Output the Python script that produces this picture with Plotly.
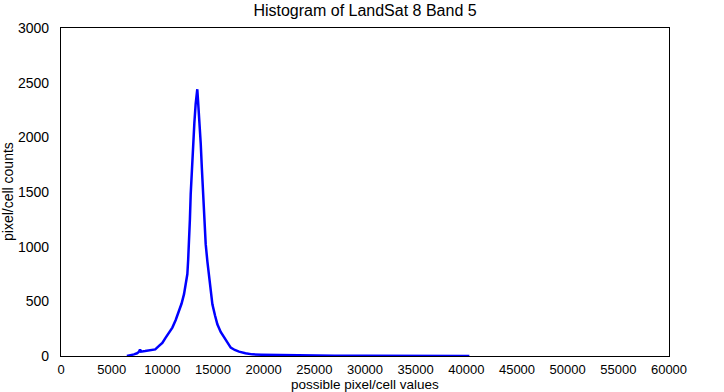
import plotly.graph_objects as go

# pixel value (x) and count (y)
pixel_values = [6500, 6800, 7200, 7500, 7700, 7800, 7900, 8300, 8700, 9000, 9300, 9670, 10000,
                10330, 10660, 10990, 11320, 11650, 11900, 12140, 12300, 12470, 12550, 12630,
                12720, 12800, 12920, 13030, 13160, 13290, 13380, 13450, 13520, 13620, 13700,
                13790, 13900, 14020, 14150, 14280, 14450, 14610, 14780, 14940, 15200, 15430,
                15760, 16090, 16420, 16750, 17150, 17570, 18200, 18880, 19800, 20830, 22000,
                23490, 25000, 27000, 30000, 33000, 36000, 38000, 40000, 40300]
pixel_counts = [0, 5, 15, 25, 40, 60, 40, 45, 50, 52, 60, 92, 120,
                168, 210, 260, 330, 413, 480, 566, 650, 750, 880, 1023,
                1250, 1482, 1720, 1941, 2130, 2307, 2380, 2440, 2340, 2216, 2080,
                1941, 1720, 1482, 1250, 1023, 860, 718, 580, 473, 370, 290,
                220, 168, 115, 76, 55, 40, 25, 15, 12, 10, 7,
                5, 4, 3, 3, 2, 2, 1, 1, 0]

x_ticks = list(range(0, 60001, 5000))
y_ticks = list(range(0, 3001, 500))

fig = go.Figure()
fig.add_trace(go.Scatter(
    x=pixel_values, y=pixel_counts, mode="lines",
    line=dict(color="#0000ff", width=2.5),
    showlegend=False, cliponaxis=True,
))

font_family = "Liberation Sans, Arial, Helvetica, sans-serif"
fig.update_layout(
    width=724, height=392,
    margin=dict(l=61, r=55, t=28, b=36, autoexpand=False),
    paper_bgcolor="white", plot_bgcolor="white",
    font=dict(family=font_family, size=14, color="black"),
    title=dict(text="Histogram of LandSat 8 Band 5", x=0.5, xanchor="center",
               xref="paper", y=1, yanchor="top", pad=dict(t=5),
               font=dict(size=16, family=font_family, color="black")),
    xaxis=dict(
        range=[0, 60000], tickvals=x_ticks, ticktext=[str(v) for v in x_ticks],
        showgrid=False, zeroline=False, showline=True, mirror=True,
        linecolor="black", linewidth=1.2, ticks="", automargin=False,
        ticklabelstandoff=1,
        tickfont=dict(size=13),
    ),
    yaxis=dict(
        range=[0, 3000], tickvals=y_ticks, ticktext=[str(v) for v in y_ticks],
        showgrid=False, zeroline=False, showline=True, mirror=True,
        linecolor="black", linewidth=1.2, ticks="", automargin=False,
        ticklabelstandoff=8,
        tickfont=dict(size=14),
    ),
    annotations=[
        dict(text="possible pixel/cell values", xref="paper", yref="paper",
             x=0.5, y=0, yshift=-28.5, xanchor="center", yanchor="middle",
             showarrow=False, font=dict(size=13.5)),
        dict(text="pixel/cell counts", xref="paper", yref="paper",
             x=0, y=0.5, xshift=-53, xanchor="center", yanchor="middle",
             textangle=-90, showarrow=False, font=dict(size=14)),
    ],
)

fig.write_html("out.html", config={"displayModeBar": False})

# remove the browser's default body margin so the figure sits at the page origin
with open("out.html", "r", encoding="utf-8") as f:
    html = f.read()
html = html.replace("<head>", "<head><style>html,body{margin:0;padding:0;overflow:hidden;}</style>", 1)
with open("out.html", "w", encoding="utf-8") as f:
    f.write(html)
